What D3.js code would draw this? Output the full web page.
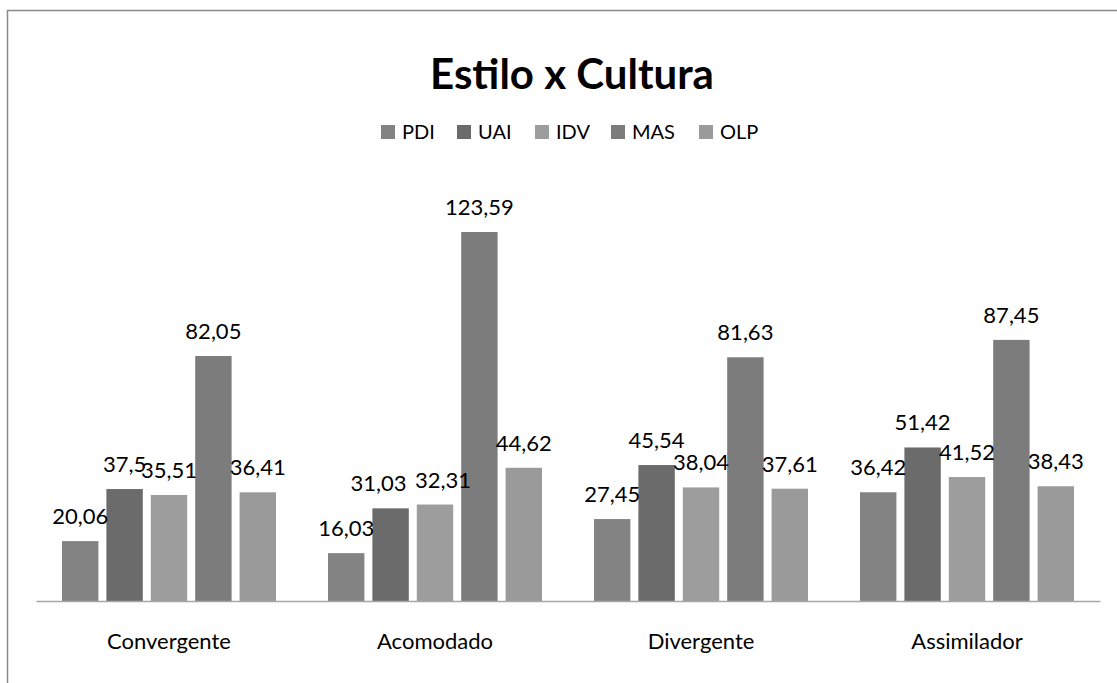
<!DOCTYPE html>
<html>
<head>
<meta charset="UTF-8">
<title>Estilo x Cultura</title>
<style>
  body { margin: 0; background: #fff; }
  text { font-family: Lato, "Open Sans", sans-serif; fill: #000; }
</style>
</head>
<body>
<div id="chart"></div>
<script src="https://d3js.org/d3.v7.min.js"></script>
<script>
// data
var categories = ["Convergente", "Acomodado", "Divergente", "Assimilador"];
var series = ["PDI", "UAI", "IDV", "MAS", "OLP"];
var PDI = [20.06, 16.03, 27.45, 36.42];
var UAI = [37.5, 31.03, 45.54, 51.42];
var IDV = [35.51, 32.31, 38.04, 41.52];
var MAS = [82.05, 123.59, 81.63, 87.45];
var OLP = [36.41, 44.62, 37.61, 38.43];
var values = [PDI, UAI, IDV, MAS, OLP];
var colors = ["#838383", "#6b6b6b", "#9d9d9d", "#7c7c7c", "#9a9a9a"];

var width = 1117, height = 683;
var plot = { left: 36, right: 1100, top: 183, bottom: 601 };

var svg = d3.select("#chart").append("svg")
  .attr("width", width)
  .attr("height", height);

// outer frame
svg.append("rect")
  .attr("x", 7.5).attr("y", 10.5)
  .attr("width", width + 10).attr("height", height + 10)
  .attr("fill", "none")
  .attr("stroke", "#898989")
  .attr("stroke-width", 1.5);

var x0 = d3.scaleBand()
  .domain(categories)
  .range([plot.left, plot.right])
  .paddingInner(0)
  .paddingOuter(0);

var x1 = d3.scaleBand()
  .domain(series)
  .range([26, x0.bandwidth() - 26])
  .paddingInner(0.18)
  .paddingOuter(0);

var y = d3.scaleLinear()
  .domain([0, 140])
  .range([plot.bottom, plot.top]);

// title
svg.append("text")
  .attr("x", 572).attr("y", 89)
  .attr("text-anchor", "middle")
  .style("font-size", "42px")
  .style("font-weight", "bold")
  .text("Estilo x Cultura");

// legend
var legendX = [381, 457, 535, 611, 699];
var legend = svg.selectAll(".legend")
  .data(series)
  .enter().append("g")
  .attr("class", "legend")
  .attr("transform", function(d, i) { return "translate(" + legendX[i] + ",125)"; });
legend.append("rect")
  .attr("width", 14).attr("height", 14)
  .attr("fill", function(d, i) { return colors[i]; });
legend.append("text")
  .attr("x", 21).attr("y", 14)
  .style("font-size", "20px")
  .text(function(d) { return d; });

// bars
var groups = svg.selectAll(".group")
  .data(categories)
  .enter().append("g")
  .attr("class", "group")
  .attr("transform", function(d) { return "translate(" + x0(d) + ",0)"; });

series.forEach(function(s, si) {
  groups.append("rect")
    .attr("x", x1(s))
    .attr("y", function(d, ci) { return y(values[si][ci]); })
    .attr("width", x1.bandwidth())
    .attr("height", function(d, ci) { return y(0) - y(values[si][ci]); })
    .attr("fill", colors[si]);
});

// labels in "Acomodado" were moved apart by hand in the original
function nudge(cat, s) {
  if (cat === "Acomodado" && s === "UAI") return -12;
  if (cat === "Acomodado" && s === "IDV") return 8;
  return 0;
}

series.forEach(function(s, si) {
  groups.append("text")
    .attr("x", function(d) { return x1(s) + x1.bandwidth() / 2 + nudge(d, s); })
    .attr("y", function(d, ci) { return y(values[si][ci]) - 17; })
    .attr("text-anchor", "middle")
    .style("font-size", "22px")
    .text(function(d, ci) { return String(values[si][ci]).replace(".", ","); });
});

// x axis
var xAxis = d3.axisBottom(x0).tickSize(0).tickPadding(32);
var gx = svg.append("g")
  .attr("transform", "translate(0," + plot.bottom + ")")
  .call(xAxis);
gx.select(".domain").attr("stroke", "#a6a6a6").attr("stroke-width", 1.5);
gx.selectAll("text")
  .style("font-family", "Lato, 'Open Sans', sans-serif")
  .style("font-size", "22px")
  .attr("fill", "#000");
</script>
</body>
</html>
